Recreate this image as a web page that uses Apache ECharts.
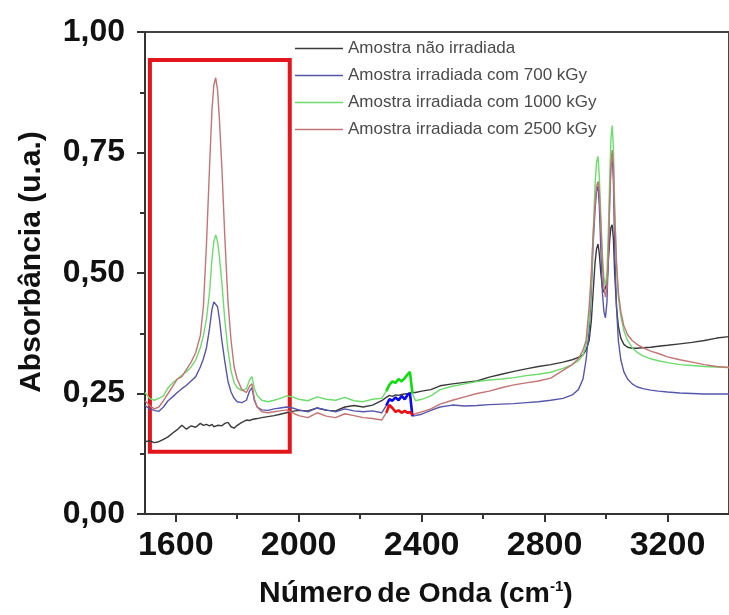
<!DOCTYPE html>
<html>
<head>
<meta charset="utf-8">
<script src="https://cdn.jsdelivr.net/npm/echarts@6/dist/echarts.min.js"></script>
<style>
  html, body { margin: 0; padding: 0; background: #fff; }
  #chart { width: 729px; height: 615px; }
</style>
</head>
<body>
<div id="chart"></div>
<script>
// FTIR spectra: wavenumber (cm-1) vs absorbance for four samples
const wavenumbers = [
  1500, 1515, 1530, 1545, 1560, 1575, 1590, 1605, 1620, 1635, 1650, 1665, 1680, 1690, 1700, 1710,
  1718, 1724, 1730, 1736, 1742, 1750, 1760, 1770, 1780, 1790, 1800, 1815, 1830, 1840, 1848, 1856,
  1865, 1880, 1900, 1920, 1940, 1960, 1980, 2000, 2030, 2060, 2090, 2120, 2150, 2180, 2210, 2240,
  2270, 2285, 2295, 2305, 2315, 2325, 2335, 2345, 2355, 2362, 2370, 2380, 2400, 2430, 2460, 2500,
  2540, 2580, 2620, 2660, 2700, 2740, 2780, 2820, 2860, 2890, 2910, 2925, 2935, 2945, 2952, 2958,
  2964, 2969, 2974, 2978, 2983, 2988, 2993, 2998, 3003, 3008, 3012, 3016, 3020, 3024, 3028, 3034,
  3040, 3048, 3058, 3070, 3085, 3100, 3120, 3145, 3170, 3200, 3240, 3280, 3320, 3360, 3400
];

const naoIrradiada = [
  0.150, 0.152, 0.148, 0.150, 0.155, 0.160, 0.168, 0.175, 0.184, 0.176, 0.183, 0.180, 0.188, 0.184, 0.186, 0.183,
  0.186, 0.181, 0.178, 0.184, 0.186, 0.183, 0.188, 0.190, 0.181, 0.178, 0.184, 0.190, 0.195, 0.194, 0.196, 0.197,
  0.198, 0.200, 0.202, 0.204, 0.207, 0.210, 0.213, 0.215, 0.214, 0.220, 0.215, 0.214, 0.222, 0.225, 0.222, 0.226,
  0.235, 0.242, 0.246, 0.244, 0.247, 0.246, 0.248, 0.249, 0.250, 0.251, 0.252, 0.252, 0.255, 0.258, 0.266, 0.270,
  0.273, 0.276, 0.284, 0.290, 0.296, 0.301, 0.306, 0.310, 0.315, 0.320, 0.325, 0.330, 0.340, 0.360, 0.400, 0.460,
  0.520, 0.550, 0.560, 0.540, 0.500, 0.470, 0.460, 0.460, 0.480, 0.530, 0.570, 0.595, 0.600, 0.570, 0.500, 0.430,
  0.390, 0.365, 0.352, 0.346, 0.344, 0.344, 0.345, 0.346, 0.348, 0.350, 0.353, 0.356, 0.360, 0.365, 0.368
];

const irradiada700 = [
  0.225, 0.218, 0.215, 0.213, 0.222, 0.235, 0.243, 0.252, 0.260, 0.267, 0.276, 0.285, 0.305, 0.322, 0.345, 0.385,
  0.425, 0.440, 0.444, 0.430, 0.405, 0.360, 0.315, 0.275, 0.253, 0.240, 0.233, 0.231, 0.236, 0.255, 0.262, 0.235,
  0.222, 0.216, 0.215, 0.218, 0.220, 0.222, 0.220, 0.216, 0.212, 0.220, 0.216, 0.212, 0.218, 0.214, 0.212, 0.214,
  0.210, 0.225, 0.238, 0.235, 0.242, 0.236, 0.245, 0.238, 0.248, 0.250, 0.203, 0.204, 0.207, 0.215, 0.222, 0.226,
  0.224, 0.225, 0.227, 0.228, 0.229, 0.231, 0.233, 0.236, 0.240, 0.247, 0.258, 0.280, 0.320, 0.380, 0.460, 0.560,
  0.630, 0.670, 0.680, 0.640, 0.550, 0.460, 0.420, 0.407, 0.440, 0.550, 0.660, 0.730, 0.748, 0.690, 0.550, 0.430,
  0.360, 0.320, 0.295, 0.280, 0.270, 0.264, 0.260, 0.257, 0.255, 0.253, 0.251, 0.250, 0.249, 0.249, 0.249
];

const irradiada1000 = [
  0.252, 0.240, 0.236, 0.240, 0.245, 0.262, 0.272, 0.280, 0.288, 0.295, 0.305, 0.320, 0.345, 0.370, 0.405, 0.460,
  0.530, 0.565, 0.579, 0.565, 0.535, 0.480, 0.400, 0.340, 0.297, 0.272, 0.262, 0.256, 0.260, 0.278, 0.285, 0.260,
  0.246, 0.236, 0.233, 0.236, 0.240, 0.245, 0.243, 0.238, 0.235, 0.243, 0.238, 0.236, 0.242, 0.235, 0.233, 0.238,
  0.240, 0.255, 0.268, 0.275, 0.272, 0.280, 0.275, 0.282, 0.290, 0.295, 0.250, 0.235, 0.238, 0.245, 0.258, 0.265,
  0.270, 0.275, 0.278, 0.280, 0.283, 0.287, 0.290, 0.294, 0.302, 0.310, 0.318, 0.330, 0.350, 0.400, 0.480, 0.580,
  0.680, 0.730, 0.742, 0.700, 0.620, 0.540, 0.490, 0.475, 0.500, 0.600, 0.700, 0.780, 0.806, 0.760, 0.640, 0.520,
  0.450, 0.410, 0.380, 0.360, 0.345, 0.336, 0.328, 0.322, 0.318, 0.314, 0.310, 0.308, 0.306, 0.305, 0.304
];

const irradiada2500 = [
  0.235, 0.225, 0.218, 0.222, 0.235, 0.250, 0.265, 0.280, 0.285, 0.300, 0.315, 0.335, 0.370, 0.430, 0.560, 0.720,
  0.840, 0.890, 0.905, 0.880, 0.820, 0.720, 0.570, 0.440, 0.360, 0.305, 0.280, 0.258, 0.252, 0.265, 0.270, 0.238,
  0.222, 0.212, 0.210, 0.212, 0.214, 0.216, 0.210, 0.204, 0.200, 0.210, 0.203, 0.200, 0.208, 0.204, 0.200, 0.198,
  0.195, 0.210, 0.226, 0.220, 0.212, 0.215, 0.210, 0.214, 0.210, 0.212, 0.205, 0.208, 0.212, 0.218, 0.228, 0.236,
  0.243, 0.250, 0.255, 0.262, 0.268, 0.272, 0.276, 0.282, 0.298, 0.310, 0.322, 0.340, 0.360, 0.430, 0.500, 0.580,
  0.640, 0.680, 0.690, 0.670, 0.600, 0.520, 0.470, 0.450, 0.470, 0.550, 0.650, 0.720, 0.755, 0.720, 0.620, 0.520,
  0.460, 0.420, 0.390, 0.372, 0.360, 0.352, 0.345, 0.338, 0.333, 0.326, 0.320, 0.315, 0.310, 0.306, 0.304
];

const seriesNames = [
  'Amostra não irradiada',
  'Amostra irradiada com 700 kGy',
  'Amostra irradiada com 1000 kGy',
  'Amostra irradiada com 2500 kGy'
];
const seriesColors = ['#3a3a3a', '#5656ac', '#6cdc6c', '#c47474'];
// saturated overlay colours for the noisy 2300 cm-1 band
const bandColors = ['#3a3a3a', '#0a0aee', '#10dd10', '#ee1010'];
const bandRange = [2285, 2370];

const majorTicks = [1600, 2000, 2400, 2800, 3200];
const minorTicks = [1800, 2200, 2600, 3000];
// highlighted region (carbonyl band)
const boxRange = { x: [1516, 1971], y: [0.129, 0.942] };

const allValues = [naoIrradiada, irradiada700, irradiada1000, irradiada2500];
const pairs = vals => wavenumbers.map((w, i) => [w, vals[i]]);

const FONT = "'Liberation Sans', Arial, sans-serif";

const mainSeries = allValues.map((vals, k) => ({
  name: seriesNames[k],
  type: 'line',
  data: pairs(vals),
  symbol: 'none',
  lineStyle: { color: seriesColors[k], width: 1.4 },
  itemStyle: { color: seriesColors[k] },
  z: 2 + k,
  silent: true
}));

const bandSeries = [1, 2, 3].map(k => ({
  name: 'band' + k,
  type: 'line',
  data: pairs(allValues[k]).filter(p => p[0] >= bandRange[0] && p[0] <= bandRange[1]),
  symbol: 'none',
  lineStyle: { color: bandColors[k], width: 2.6 },
  z: 8,
  silent: true
}));

const boxSeries = {
  name: 'box',
  type: 'line',
  data: [],
  z: 10,
  silent: true,
  markArea: {
    silent: true,
    itemStyle: { color: 'rgba(0,0,0,0)', borderColor: '#e3161d', borderWidth: 4 },
    data: [[{ coord: [boxRange.x[0], boxRange.y[1]] }, { coord: [boxRange.x[1], boxRange.y[0]] }]]
  }
};

const chart = echarts.init(document.getElementById('chart'), null, { renderer: 'canvas' });
chart.setOption({
  animation: false,
  backgroundColor: '#ffffff',
  textStyle: { fontFamily: FONT },
  title: {
    left: 259,
    top: 579,
    padding: 0,
    text: '{a|Número} {b|de Onda (cm}{s|-1}{b|)}',
    textStyle: {
      rich: {
        a: { fontSize: 30, fontWeight: 'bold', color: '#111', fontFamily: FONT },
        b: { fontSize: 28.5, fontWeight: 'bold', color: '#111', fontFamily: FONT },
        s: { fontSize: 15, fontWeight: 'bold', color: '#111', fontFamily: FONT, verticalAlign: 'top', padding: [0, 0, 14, 0] }
      }
    }
  },
  legend: {
    data: seriesNames.map(n => ({ name: n, icon: 'rect' })),
    orient: 'vertical',
    left: 295,
    top: 40,
    padding: 0,
    itemWidth: 48,
    itemHeight: 1.6,
    itemGap: 10,
    textStyle: { fontSize: 17, color: '#4a4a4a', fontFamily: FONT, lineHeight: 17 },
    selectedMode: false
  },
  grid: {
    left: 145, top: 32, width: 592, height: 482,
    show: true, borderColor: '#444', borderWidth: 2, backgroundColor: '#fff'
  },
  xAxis: [
    {
      type: 'value', min: 1500, max: 3400,
      axisLine: { show: true, onZero: false, lineStyle: { color: '#333', width: 2 } },
      axisTick: { show: true, customValues: majorTicks, length: 8, lineStyle: { color: '#333', width: 2 } },
      axisLabel: {
        customValues: majorTicks, fontSize: 34, fontWeight: 'bold', color: '#111', margin: 15,
        fontFamily: FONT, formatter: v => String(v)
      },
      splitLine: { show: false }
    },
    {
      type: 'value', min: 1500, max: 3400, position: 'bottom',
      axisLine: { show: false },
      axisTick: { show: true, customValues: minorTicks, length: 5, lineStyle: { color: '#333', width: 2 } },
      axisLabel: { show: false },
      splitLine: { show: false }
    }
  ],
  yAxis: {
    type: 'value', min: 0, max: 1, interval: 0.25,
    name: 'Absorbância (u.a.)',
    nameLocation: 'middle',
    nameRotate: 90,
    nameGap: 98,
    nameTextStyle: { fontSize: 30, fontWeight: 'bold', color: '#111', fontFamily: FONT, padding: [0, 0, 0, 22] },
    axisLine: { show: true, lineStyle: { color: '#333', width: 2 } },
    axisTick: { show: true, length: 8, lineStyle: { color: '#333', width: 2 } },
    minorTick: { show: true, splitNumber: 2, length: 5, lineStyle: { color: '#333', width: 2 } },
    axisLabel: {
      fontSize: 32, fontWeight: 'bold', color: '#111', margin: 20, fontFamily: FONT,
      formatter: v => v.toFixed(2).replace('.', ',')
    },
    splitLine: { show: false },
    minorSplitLine: { show: false }
  },
  series: [...mainSeries, ...bandSeries, boxSeries]
});
</script>
</body>
</html>
